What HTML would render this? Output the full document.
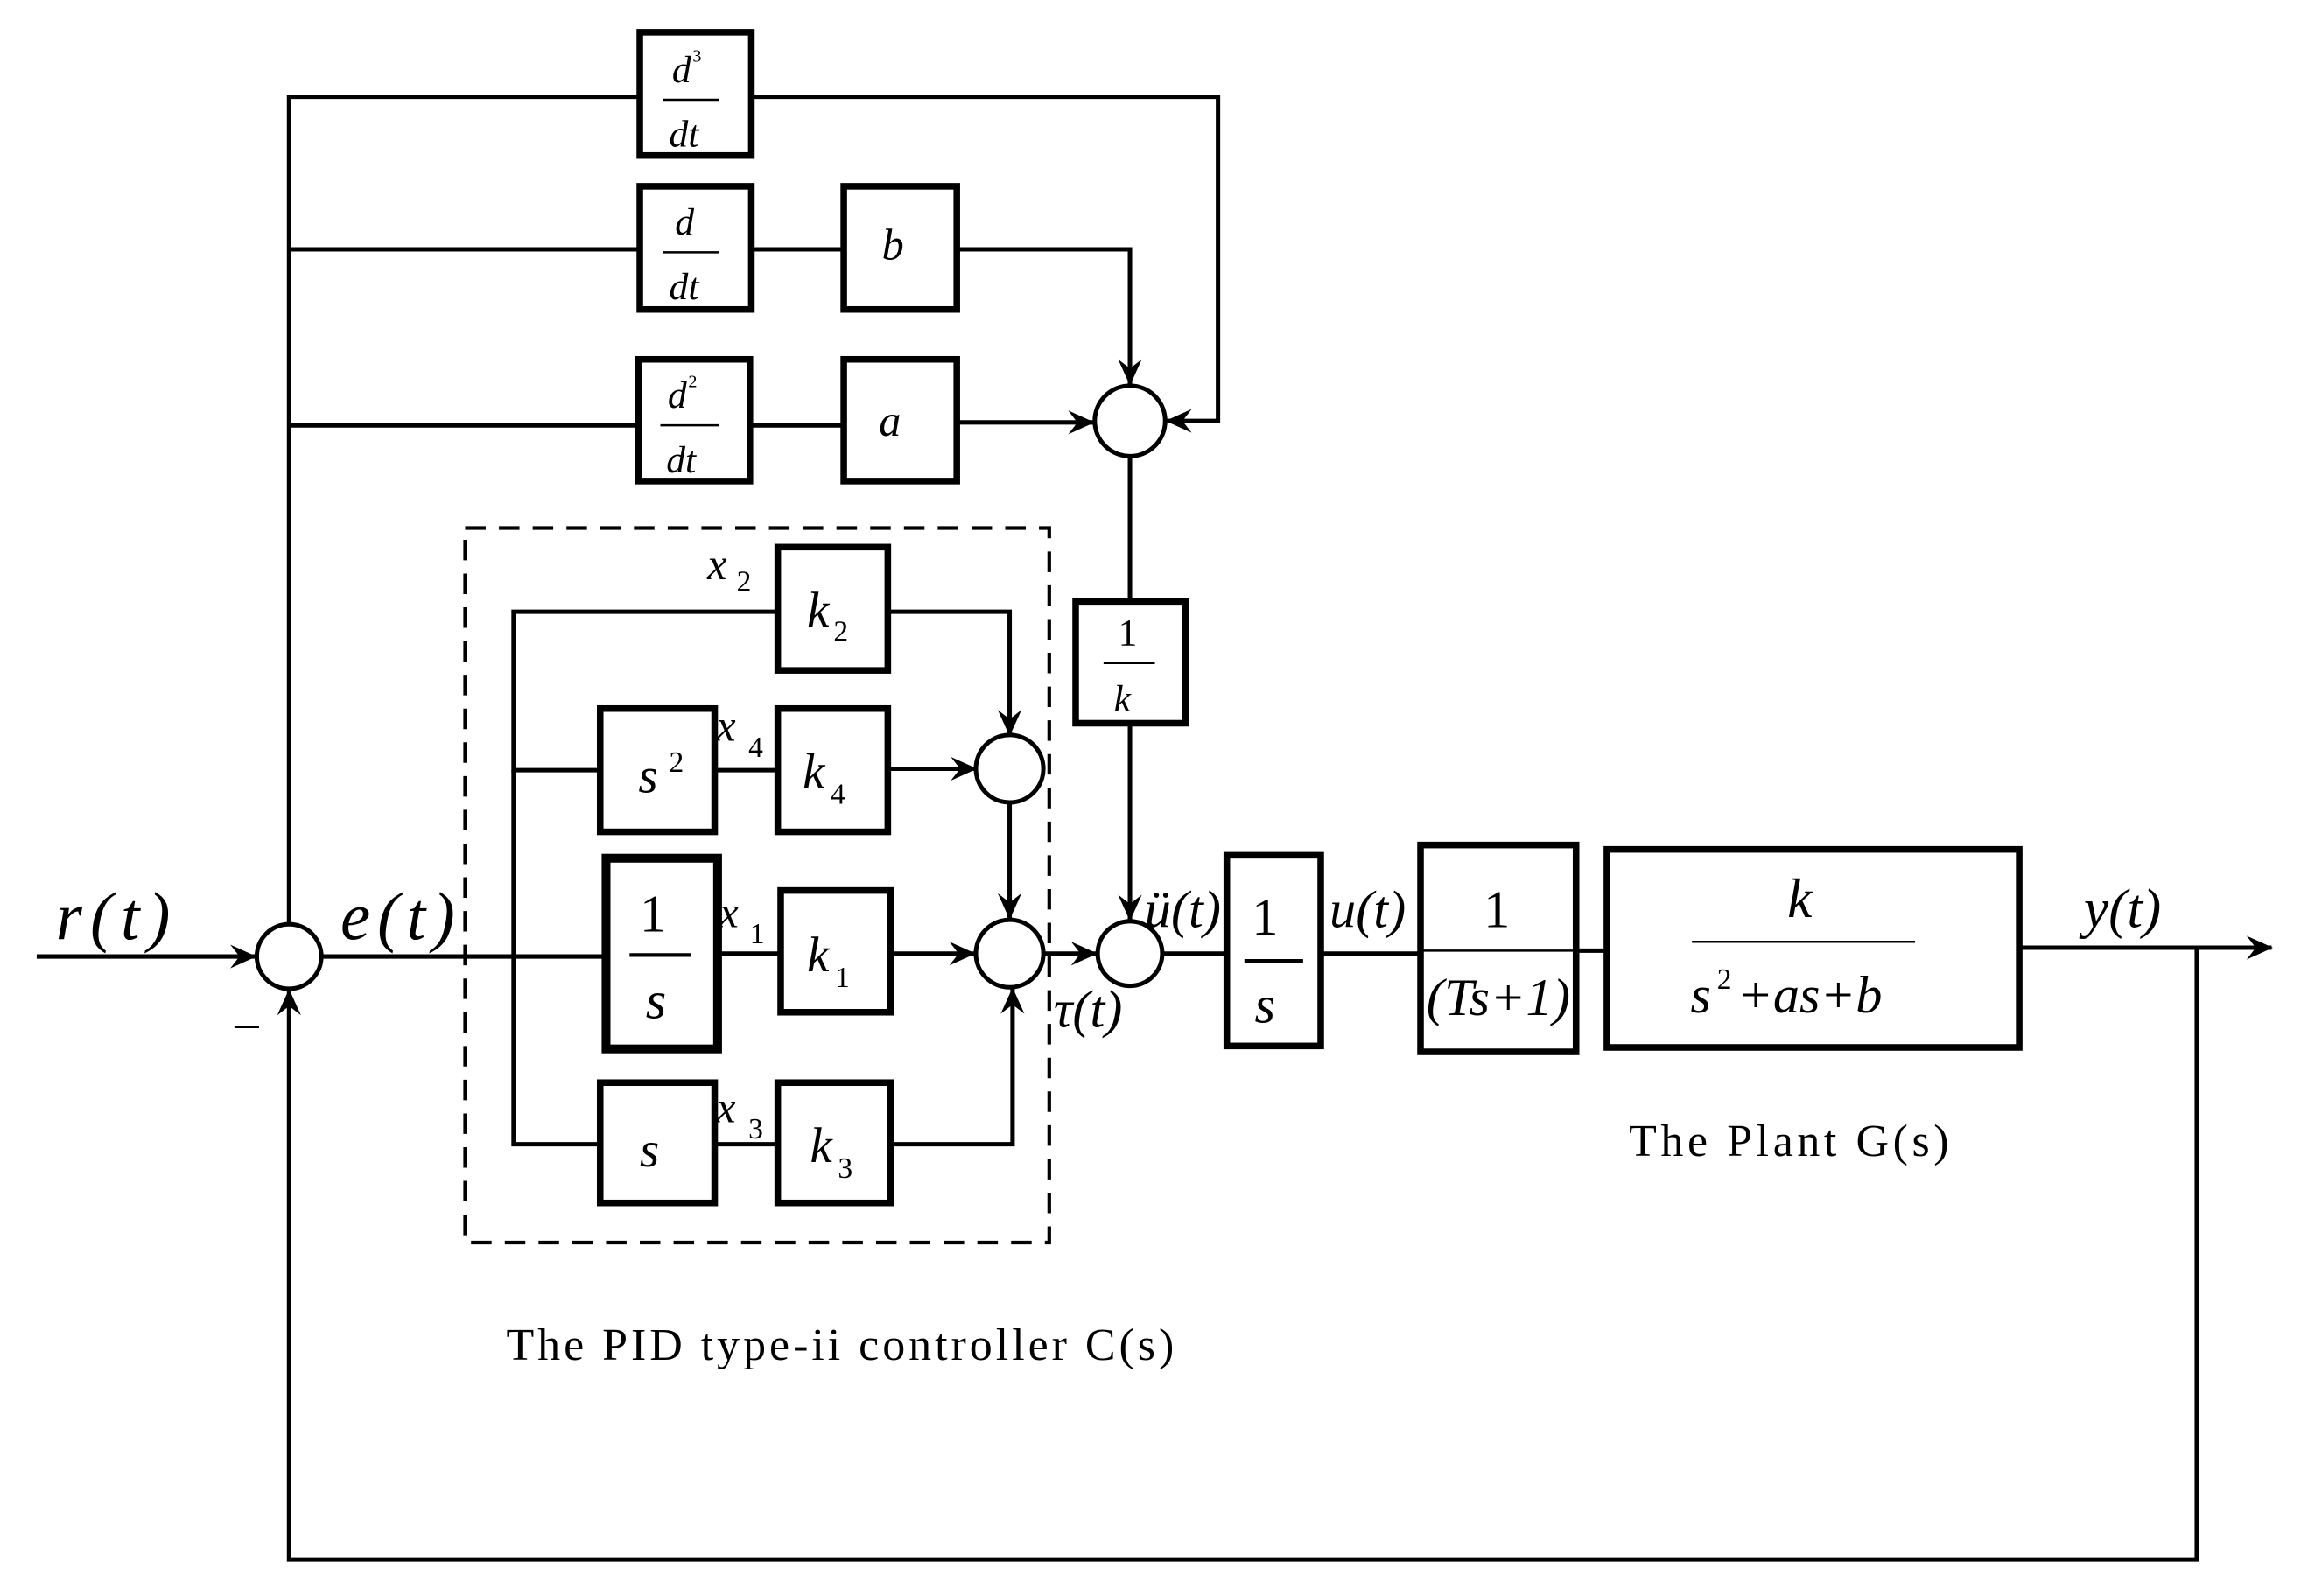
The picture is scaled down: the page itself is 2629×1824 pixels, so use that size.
<!DOCTYPE html>
<html><head><meta charset="utf-8"><style>
html,body{margin:0;padding:0;background:#fff;}
svg{display:block;}
text{font-family:"Liberation Serif",serif;fill:#000;}
.i{font-style:italic;}
</style></head><body>
<svg width="2629" height="1824" viewBox="0 0 1568 1088" preserveAspectRatio="none" xmlns="http://www.w3.org/2000/svg">
<defs>
<marker id="a" viewBox="0 0 20 20" refX="19" refY="10" markerWidth="18" markerHeight="18" markerUnits="userSpaceOnUse" orient="auto">
<path d="M0,1 L20,10 L0,19 L7,10 Z" fill="#000"/>
</marker>
</defs>
<g fill="none" stroke="#000" stroke-width="3">
<line x1="25" y1="652" x2="174" y2="652" marker-end="url(#a)"/>
<polyline points="197,630 197,66 436,66"/>
<line x1="197" y1="170" x2="436" y2="170"/>
<line x1="197" y1="290" x2="435" y2="290"/>
<polyline points="512,66 830,66 830,287 795,287" marker-end="url(#a)"/>
<line x1="512" y1="170" x2="575" y2="170"/>
<polyline points="652,170 770,170 770,262" marker-end="url(#a)"/>
<line x1="511" y1="290" x2="575" y2="290"/>
<line x1="652" y1="288" x2="745" y2="288" marker-end="url(#a)"/>
<line x1="770" y1="311" x2="770" y2="410"/>
<line x1="770" y1="493" x2="770" y2="627" marker-end="url(#a)"/>
<line x1="219" y1="652" x2="413" y2="652"/>
<polyline points="409,525 350,525 350,417 530,417"/>
<polyline points="350,525 350,780 409,780"/>
<line x1="487" y1="525" x2="530" y2="525"/>
<line x1="489" y1="650" x2="532" y2="650"/>
<line x1="487" y1="780" x2="530" y2="780"/>
<polyline points="605,417 688,417 688,501" marker-end="url(#a)"/>
<line x1="605" y1="524" x2="665" y2="524" marker-end="url(#a)"/>
<line x1="607" y1="650" x2="664" y2="650" marker-end="url(#a)"/>
<polyline points="607,780 690,780 690,674" marker-end="url(#a)"/>
<line x1="688" y1="547" x2="688" y2="626" marker-end="url(#a)"/>
<line x1="712" y1="650" x2="747" y2="650" marker-end="url(#a)"/>
<line x1="792" y1="650" x2="836" y2="650"/>
<line x1="900" y1="650" x2="968" y2="650"/>
<line x1="1074" y1="648" x2="1095" y2="648"/>
<line x1="1376" y1="646" x2="1548" y2="646" marker-end="url(#a)"/>
<polyline points="1497,646 1497,1063 197,1063 197,675" marker-end="url(#a)"/>
<circle cx="197" cy="652" r="22"/>
<circle cx="770" cy="287" r="24"/>
<circle cx="688" cy="524" r="23"/>
<circle cx="688" cy="650" r="23"/>
<circle cx="770" cy="650" r="22"/>
<rect x="317" y="360" width="398" height="487" stroke-width="2.5" stroke-dasharray="14,9"/>
</g>
<g fill="none" stroke="#000" stroke-width="4.5">
<rect x="436" y="22" width="76" height="84"/>
<rect x="436" y="127" width="76" height="84"/>
<rect x="575" y="127" width="77" height="84"/>
<rect x="435" y="245" width="76" height="83"/>
<rect x="575" y="245" width="77" height="83"/>
<rect x="733" y="410" width="75" height="83"/>
<rect x="530" y="373" width="75" height="84"/>
<rect x="409" y="483" width="78" height="84"/>
<rect x="530" y="483" width="75" height="84"/>
<rect x="413" y="585" width="76" height="130" stroke-width="6"/>
<rect x="532" y="607" width="75" height="83"/>
<rect x="409" y="738" width="78" height="82"/>
<rect x="530" y="738" width="77" height="82"/>
<rect x="836" y="583" width="64" height="130"/>
<rect x="968" y="576" width="106" height="141"/>
<rect x="1095" y="579" width="281" height="135"/>
</g>
<g stroke="#000" stroke-width="1.5">
<line x1="452" y1="68" x2="490" y2="68"/>
<line x1="452" y1="172" x2="490" y2="172"/>
<line x1="450" y1="290" x2="490" y2="290"/>
<line x1="752" y1="452" x2="787" y2="452"/>
<line x1="429" y1="651" x2="471" y2="651" stroke-width="2.5"/>
<line x1="848" y1="655" x2="888" y2="655" stroke-width="2.5"/>
<line x1="970" y1="648" x2="1072" y2="648"/>
<line x1="1153" y1="642" x2="1305" y2="642"/>
</g>
<text class="i" x="38" y="640" font-size="46" textLength="78">r(t)</text>
<text x="158" y="712" font-size="36">−</text>
<text class="i" x="232" y="640" font-size="46" textLength="78">e(t)</text>
<text class="i" x="458" y="56" font-size="26">d</text><text x="472" y="42" font-size="12">3</text>
<text class="i" x="456" y="100" font-size="26">dt</text>
<text class="i" x="460" y="160" font-size="26">d</text>
<text class="i" x="456" y="204" font-size="26">dt</text>
<text class="i" x="601" y="177" font-size="30">b</text>
<text class="i" x="455" y="278" font-size="26">d</text><text x="469" y="264" font-size="12">2</text>
<text class="i" x="454" y="322" font-size="26">dt</text>
<text class="i" x="599" y="297" font-size="30">a</text>
<text x="762" y="440" font-size="26">1</text>
<text class="i" x="759" y="485" font-size="26">k</text>
<text class="i" x="482" y="395" font-size="30">x</text><text x="502" y="403" font-size="20">2</text>
<text class="i" x="550" y="427" font-size="34">k</text><text x="568" y="437" font-size="20">2</text>
<text class="i" x="435" y="540" font-size="34">s</text><text x="456" y="526" font-size="20">2</text>
<text class="i" x="488" y="505" font-size="30">x</text><text x="510" y="516" font-size="20">4</text>
<text class="i" x="547" y="537" font-size="34">k</text><text x="566" y="548" font-size="20">4</text>
<text x="436" y="635" font-size="36">1</text>
<text class="i" x="440" y="694" font-size="36">s</text>
<text class="i" x="490" y="632" font-size="30">x</text><text x="511" y="643" font-size="20">1</text>
<text class="i" x="550" y="662" font-size="34">k</text><text x="569" y="673" font-size="20">1</text>
<text class="i" x="436" y="795" font-size="34">s</text>
<text class="i" x="488" y="765" font-size="30">x</text><text x="510" y="776" font-size="20">3</text>
<text class="i" x="552" y="792" font-size="34">k</text><text x="571" y="803" font-size="20">3</text>
<text class="i" x="718" y="700" font-size="36">τ(t)</text>
<text class="i" x="780" y="632" font-size="36">ü(t)</text>
<text x="853" y="637" font-size="36">1</text>
<text class="i" x="855" y="697" font-size="36">s</text>
<text class="i" x="906" y="632" font-size="36">u(t)</text>
<text x="1011" y="632" font-size="36">1</text>
<text class="i" x="972" y="692" font-size="36" textLength="98">(Ts+1)</text>
<text class="i" x="1218" y="625" font-size="38">k</text>
<text class="i" x="1152" y="690" font-size="36">s</text><text x="1170" y="674" font-size="20">2</text>
<text class="i" x="1184" y="690" font-size="36">+as+b</text>
<text class="i" x="1420" y="632" font-size="38">y(t)</text>
<text x="1110" y="788" font-size="31" textLength="218">The Plant G(s)</text>
<text x="345" y="927" font-size="31" textLength="455">The PID type-ii controller C(s)</text>
</svg>
</body></html>
